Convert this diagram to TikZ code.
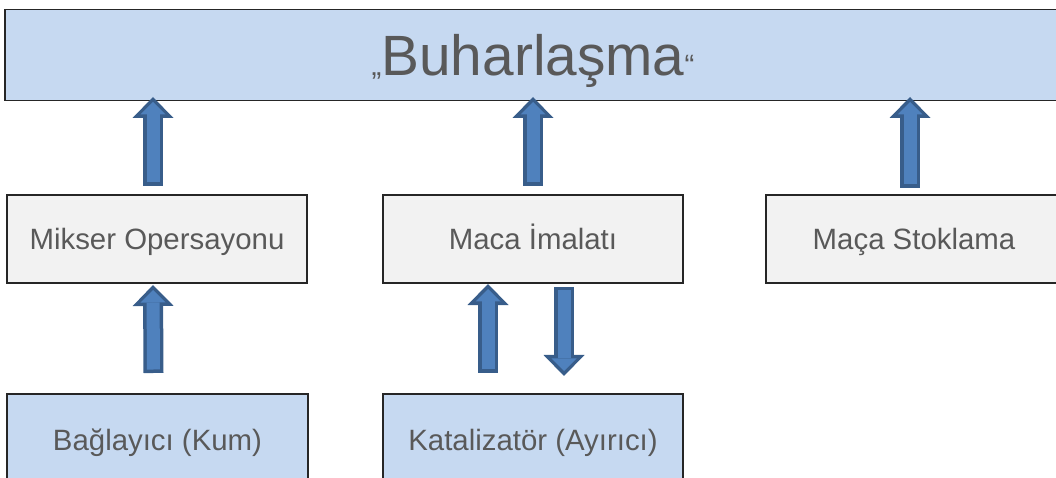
\documentclass[tikz,border=0pt]{standalone}
\usepackage{fontspec}
\setmainfont{Liberation Sans}
\usepackage{tikz}
\usetikzlibrary{arrows.meta}
\definecolor{topblue}{HTML}{C6D9F1}
\definecolor{boxgray}{HTML}{F2F2F2}
\definecolor{txtgray}{HTML}{595959}
\definecolor{arrowfill}{HTML}{4F81BD}
\definecolor{arrowedge}{HTML}{385D8A}
\begin{document}
\begin{tikzpicture}[x=1bp,y=-1bp,
		box/.style={draw=black!85, line width=1.6bp, outer sep=0pt, text=txtgray,
			font=\fontsize{29.5}{34}\selectfont, text height=21bp, text depth=0pt},
		stepbox/.style={box, fill=boxgray, minimum width=300bp, minimum height=88bp},
		inbox/.style={box, fill=topblue, minimum width=300bp, minimum height=92bp},
		blockarrow/.style={draw=arrowedge, line width=20bp,
			-{Triangle[width=41bp,length=21bp,line width=0pt]},
			postaction={draw=arrowfill, line width=13bp, shorten <=3.5bp, shorten >=5bp,
				-{Triangle[width=25bp,length=12.5bp,line width=0pt]}}}]
		\useasboundingbox (0,0) rectangle (1056,478);
		\node[box, fill=topblue, minimum width=1056bp, minimum height=91bp, text height=41bp] (top) at (533,55)
			{{\fontsize{29.5}{34}\selectfont „}\fontsize{57}{60}\selectfont Buharlaşma{\fontsize{29.5}{34}\selectfont “}};
		\node[stepbox] (mik) at (157,239) {Mikser Opersayonu};
		\node[stepbox] (maca) at (533,239) {Maca İmalatı};
		\node[stepbox, minimum width=296bp] (stok) at (914,239) {Maça Stoklama};
		\node[inbox, minimum width=301bp] (bag) at (157.5,440) {Bağlayıcı (Kum)};
		\node[inbox] (kat) at (533,440) {Katalizatör (Ayırıcı)};
		% arrows
		\draw[blockarrow] ([xshift=-4bp,yshift=9bp]mik.north) -- ([xshift=-4bp,yshift=3.5bp]mik.north |- top.south);
		\draw[blockarrow] ([yshift=9bp]maca.north) -- ([yshift=3.5bp]maca.north |- top.south);
		\draw[blockarrow] ([xshift=-4bp,yshift=7bp]stok.north) -- ([xshift=-4bp,yshift=3.5bp]stok.north |- top.south);
		\draw[blockarrow] ([xshift=-4bp,yshift=21bp]bag.north) -- ([xshift=-4bp,yshift=-2bp]mik.south);
		\draw[blockarrow] ([xshift=-45bp,yshift=21bp]kat.north) -- ([xshift=-45bp,yshift=-1bp]maca.south);
		\draw[blockarrow] ([xshift=31bp,yshift=-4bp]maca.south) -- ([xshift=31bp,yshift=18bp]kat.north);
	\end{tikzpicture}
\end{document}
